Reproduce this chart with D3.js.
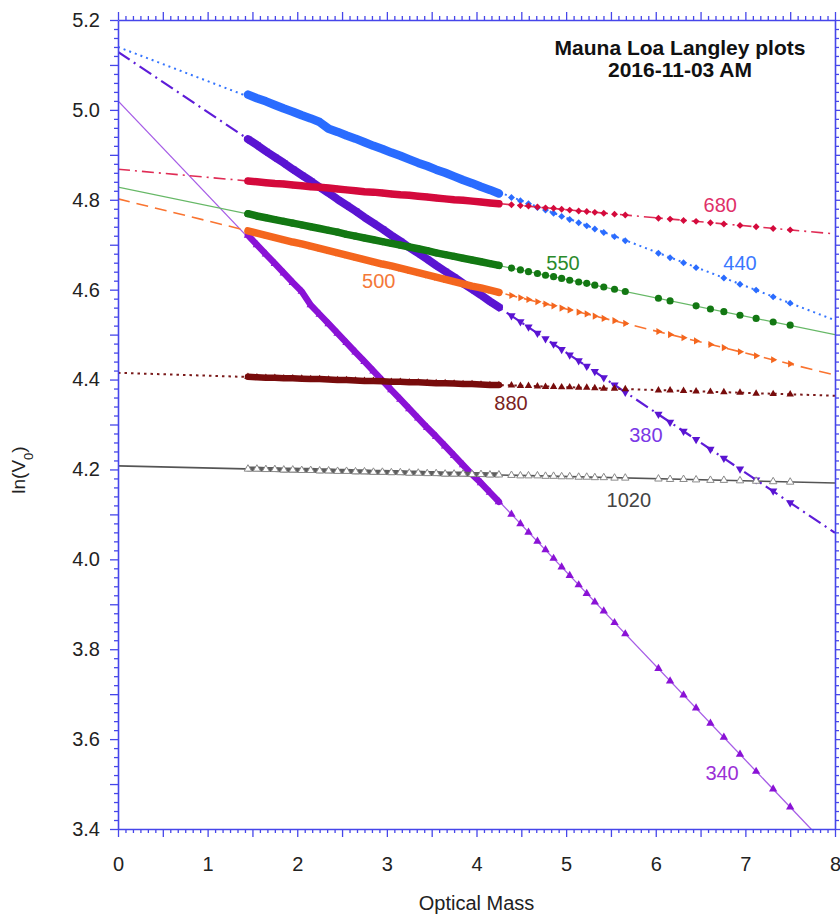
<!DOCTYPE html>
<html><head><meta charset="utf-8">
<script src="https://cdn.jsdelivr.net/npm/d3@7"></script>
<style>
body{margin:0;background:#fff}
svg{display:block}
text{font-family:"Liberation Sans",Arial,Helvetica,sans-serif}
</style>
</head><body>
<svg id="chart" width="840" height="916"></svg>
<script>
// ---------------- DATA ----------------
const airmass = [1.45,1.55,1.65,1.75,1.85,1.95,2.05,2.15,2.25,2.35,2.45,2.55,2.65,2.75,2.85,2.95,3.05,3.15,3.25,3.35,3.45,3.55,3.65,3.75,3.85,3.95,4.05,4.15,4.25,
  4.39,4.49,4.58,4.68,4.77,4.86,4.95,5.04,5.14,5.23,5.32,5.42,5.54,5.66,6.03,6.16,6.31,6.45,6.61,6.76,6.94,7.12,7.31,7.50];

const wavelengths = ["340","380","440","500","550","680","880","1020"];

const lnV_340 = [4.721,4.700,4.679,4.658,4.637,4.616,4.596,4.566,4.545,4.524,4.503,4.482,4.461,4.440,4.419,4.398,4.377,4.356,4.335,4.314,4.293,4.273,4.252,4.231,4.210,4.189,4.170,4.149,4.128,
  4.100,4.079,4.060,4.040,4.021,4.002,3.983,3.964,3.943,3.924,3.905,3.885,3.859,3.834,3.757,3.729,3.698,3.669,3.635,3.604,3.566,3.528,3.489,3.449];
const lnV_380 = [4.935,4.922,4.908,4.895,4.882,4.868,4.855,4.842,4.828,4.815,4.801,4.788,4.775,4.761,4.748,4.735,4.721,4.708,4.694,4.681,4.668,4.654,4.641,4.628,4.614,4.601,4.588,4.574,4.561,
  4.542,4.529,4.517,4.503,4.491,4.479,4.467,4.455,4.442,4.430,4.418,4.404,4.388,4.372,4.323,4.305,4.285,4.267,4.245,4.225,4.201,4.177,4.152,4.126];
const lnV_440 = [5.034,5.026,5.019,5.011,5.003,4.996,4.988,4.981,4.973,4.958,4.951,4.943,4.936,4.928,4.920,4.913,4.905,4.898,4.890,4.882,4.875,4.867,4.860,4.852,4.844,4.837,4.829,4.822,4.814,
  4.805,4.798,4.791,4.783,4.777,4.770,4.763,4.756,4.749,4.742,4.735,4.727,4.718,4.709,4.681,4.671,4.660,4.649,null,4.626,4.612,4.599,4.584,4.570];
const lnV_500 = [4.731,4.726,4.721,4.716,4.711,4.706,4.702,4.697,4.692,4.687,4.682,4.677,4.672,4.667,4.662,4.657,4.653,4.648,4.643,4.638,4.633,4.628,4.623,4.618,4.613,4.608,4.604,4.599,4.594,
  4.587,4.582,4.578,4.573,4.568,4.564,4.559,4.555,4.550,4.546,4.541,4.536,4.531,4.525,4.507,4.500,4.493,4.486,4.478,4.471,4.462,4.453,4.444,4.435];
const lnV_550 = [4.769,4.764,4.760,4.756,4.752,4.748,4.744,4.740,4.736,4.732,4.728,4.723,4.719,4.715,4.711,4.707,4.703,4.699,4.695,4.691,4.687,4.682,4.678,4.674,4.670,4.666,4.662,4.658,4.654,
  4.648,4.644,4.640,4.636,4.632,4.629,4.625,4.621,4.617,4.614,4.610,4.606,4.601,4.596,4.581,4.575,null,4.564,4.557,4.551,4.543,4.536,4.528,4.521];
const lnV_680 = [4.842,4.840,4.838,4.836,4.835,4.833,4.831,4.829,4.828,4.826,4.824,4.822,4.820,4.818,4.817,4.815,4.813,4.811,4.810,4.808,4.806,4.804,4.802,4.800,4.799,4.797,4.795,4.793,4.791,
  4.789,4.787,4.786,4.784,4.782,4.781,4.779,4.777,4.775,4.774,4.772,4.770,4.768,4.766,4.759,4.757,4.754,4.752,4.749,4.746,4.743,4.740,4.736,4.733];
const lnV_880 = [4.406,4.405,4.404,4.404,4.403,4.403,4.402,4.401,4.401,4.400,4.399,4.399,4.398,4.397,4.397,4.396,4.395,4.395,4.394,4.394,4.393,4.392,4.392,4.391,4.390,4.390,4.389,4.388,4.388,
  4.387,4.386,4.386,4.385,4.384,4.384,4.383,4.383,4.382,4.382,4.381,4.380,4.380,4.379,4.376,4.376,4.375,4.374,4.373,4.372,4.371,4.369,4.368,4.367];
const lnV_1020 = [4.201,4.201,4.200,4.200,4.199,4.199,4.198,4.198,4.197,4.197,4.196,4.196,4.195,4.195,4.194,4.194,4.193,4.193,4.192,4.192,4.191,4.191,4.190,4.190,4.190,4.189,4.189,4.188,4.188,
  4.187,4.186,4.186,4.186,4.185,4.185,4.184,4.184,4.183,4.183,4.182,4.182,4.181,4.181,4.179,4.178,4.178,4.177,4.176,4.176,4.175,4.174,4.173,4.172];

// Langley fit lines: ln(V) read at optical mass 0 and 8
const fitAt0 = [5.020, 5.129, 5.140, 4.802, 4.828, 4.868, 4.415, 4.208];
const fitAt8 = [3.344, 4.059, 4.532, 4.410, 4.500, 4.724, 4.364, 4.170];

const xTickLabels = [0,1,2,3,4,5,6,7,8];
const yTickLabels = [3.4,3.6,3.8,4.0,4.2,4.4,4.6,4.8,5.0,5.2];

const titleLines = ["Mauna Loa Langley plots", "2016-11-03 AM"];
const xTitle = "Optical Mass";

// ---------------- STYLE ----------------
const seriesValues = [lnV_340, lnV_380, lnV_440, lnV_500, lnV_550, lnV_680, lnV_880, lnV_1020];
const style = {
  "340": {mk:"#8a12d6", line:"#a65ce6", lw:1.3, dash:null, shape:"triUp", size:30, band:6.5, lab:"#9a30d6", at:[6.74,3.525]},
  "380": {mk:"#5a14d2", line:"#5e1cd8", lw:2.2, dash:"14,5,2,5", shape:"triDown", size:30, band:8, lab:"#7a38e6", at:[5.89,4.277]},
  "440": {mk:"#2a6cff", line:"#3575ff", lw:2, dash:"2,4", shape:"diamond", size:24, band:8.5, lab:"#3a78ff", at:[6.94,4.659]},
  "500": {mk:"#f4661e", line:"#fa7430", lw:1.6, dash:"12,7", shape:"triRight", size:22, band:7.5, lab:"#f47838", at:[2.91,4.619]},
  "550": {mk:"#137813", line:"#66b866", lw:1.2, dash:null, shape:"circle", size:40, band:7.5, lab:"#2a8a2a", at:[4.965,4.659]},
  "680": {mk:"#d40a3c", line:"#e02c55", lw:1.6, dash:"12,5,2,5", shape:"diamond", size:24, band:7.5, lab:"#e03068", at:[6.72,4.788]},
  "880": {mk:"#780c0c", line:"#7a1a1a", lw:2, dash:"2.5,4", shape:"triUp", size:24, band:6.5, lab:"#7a2222", at:[4.385,4.348]},
  "1020":{mk:"#8a8a8a", line:"#555555", lw:1.6, dash:null, shape:"triOpen", size:24, band:5, lab:"#444444", at:[5.70,4.132]}
};
const denseCount = 29;

// ---------------- CHART ----------------
const svg = d3.select("#chart");
const L = 118, R = 835, T = 20, B = 829;
const x = d3.scaleLinear().domain([0, 8]).range([L, R]);
const y = d3.scaleLinear().domain([3.4, 5.2]).range([B, T]);
const axisColor = "#4646ea";

svg.append("defs").append("clipPath").attr("id","plotclip")
  .append("rect").attr("x", L).attr("y", T).attr("width", R - L).attr("height", B - T);

const plot = svg.append("g").attr("clip-path","url(#plotclip)");

// fit lines
wavelengths.forEach((w, i) => {
  const s = style[w];
  const pts = [[0, fitAt0[i]], [8, fitAt8[i]]];
  plot.append("path")
    .attr("d", d3.line().x(d => x(d[0])).y(d => y(d[1]))(pts))
    .attr("fill","none").attr("stroke", s.line).attr("stroke-width", s.lw)
    .attr("stroke-dasharray", s.dash);
});

const symType = {diamond:d3.symbolSquare, circle:d3.symbolCircle, triUp:d3.symbolTriangle,
  triDown:d3.symbolTriangle, triRight:d3.symbolTriangle, triOpen:d3.symbolTriangle};
const rot = {diamond:45, circle:0, triUp:0, triDown:180, triRight:90, triOpen:0};

wavelengths.forEach((w, i) => {
  const s = style[w];
  const pts = airmass.map((a, k) => ({a, v: seriesValues[i][k], k})).filter(d => d.v !== null);
  const dense = pts.filter(d => d.k < denseCount);
  plot.append("path")
    .attr("d", d3.line().x(d => x(d.a)).y(d => y(d.v))(dense))
    .attr("fill","none")
    .attr("stroke", w === "1020" ? "#5e5e5e" : s.mk)
    .attr("stroke-width", s.band)
    .attr("stroke-linecap","round").attr("stroke-linejoin","round");
  const gen = d3.symbol().type(symType[s.shape]).size(s.size);
  plot.append("g").selectAll("path").data(pts).join("path")
    .attr("d", gen())
    .attr("transform", d => `translate(${x(d.a)},${y(d.v)}) rotate(${rot[s.shape]})`)
    .attr("fill", s.shape === "triOpen" ? "#fff" : s.mk)
    .attr("stroke", s.shape === "triOpen" ? s.mk : "none")
    .attr("stroke-width", 1);
});

// series labels
wavelengths.forEach(w => {
  const s = style[w];
  svg.append("text").attr("x", x(s.at[0])).attr("y", y(s.at[1]))
    .attr("text-anchor","middle").attr("dy","0.35em")
    .attr("fill", s.lab).style("font-size","20px").text(w);
});

// axes
const xMajor = d3.range(0, 16.5).map(k => k / 2);
const xMinor = d3.range(0, 97).map(k => k / 12).filter(v => Math.abs(v * 2 - Math.round(v * 2)) > 1e-6);
const yMajor = d3.range(0, 19).map(k => +(3.4 + k * 0.1).toFixed(2));
const yMinor = d3.range(0, 91).map(k => +(3.4 + k * 0.02).toFixed(3)).filter(v => Math.abs(v * 10 - Math.round(v * 10)) > 1e-6);

const xFmt = d => xTickLabels.some(t => Math.abs(t - d) < 1e-6) ? d3.format("d")(d) : "";
const yFmt = d => yTickLabels.some(t => Math.abs(t - d) < 1e-6) ? d3.format(".1f")(d) : "";

function styleAxis(g) {
  g.selectAll("path.domain").attr("stroke", axisColor).attr("stroke-width", 1.6);
  g.selectAll(".tick line").attr("stroke", axisColor).attr("stroke-width", 1.3);
  g.selectAll("text").attr("fill", "#222").style("font-size","20px")
    .style("font-family",'"Liberation Sans",Arial,Helvetica,sans-serif');
}
function addAxis(gen, tx, ty) {
  const g = svg.append("g").attr("transform", `translate(${tx},${ty})`).call(gen);
  styleAxis(g);
  return g;
}
// minor ticks
addAxis(d3.axisBottom(x).tickValues(xMinor).tickSize(4).tickSizeOuter(0).tickFormat(""), 0, B).select(".domain").remove();
addAxis(d3.axisTop(x).tickValues(xMinor).tickSize(4).tickSizeOuter(0).tickFormat(""), 0, T).select(".domain").remove();
addAxis(d3.axisLeft(y).tickValues(yMinor).tickSize(4).tickSizeOuter(0).tickFormat(""), L, 0).select(".domain").remove();
addAxis(d3.axisRight(y).tickValues(yMinor).tickSize(4).tickSizeOuter(0).tickFormat(""), R, 0).select(".domain").remove();
// major ticks
addAxis(d3.axisBottom(x).tickValues(xMajor).tickSize(8).tickSizeOuter(0).tickPadding(20).tickFormat(xFmt), 0, B);
addAxis(d3.axisTop(x).tickValues(xMajor).tickSize(8).tickSizeOuter(0).tickFormat(""), 0, T);
addAxis(d3.axisLeft(y).tickValues(yMajor).tickSize(8).tickSizeOuter(0).tickPadding(10).tickFormat(yFmt), L, 0);
addAxis(d3.axisRight(y).tickValues(yMajor).tickSize(8).tickSizeOuter(0).tickFormat(""), R, 0);

// titles
svg.append("text").attr("x", 680).attr("y", 55).attr("text-anchor","middle")
  .style("font-size","21px").style("font-weight","bold").attr("fill","#111").text(titleLines[0]);
svg.append("text").attr("x", 680).attr("y", 77).attr("text-anchor","middle")
  .style("font-size","21px").style("font-weight","bold").attr("fill","#111").text(titleLines[1]);

svg.append("text").attr("x", (L + R) / 2).attr("y", 910).attr("text-anchor","middle")
  .style("font-size","20px").attr("fill","#222").text(xTitle);

const yt = svg.append("text").attr("transform", "translate(25,470) rotate(-90)")
  .attr("text-anchor","middle").style("font-size","19px").attr("fill","#222");
yt.append("tspan").text("ln(V");
yt.append("tspan").attr("baseline-shift","sub").style("font-size","13px").text("0");
yt.append("tspan").text(")");
</script>
</body></html>
